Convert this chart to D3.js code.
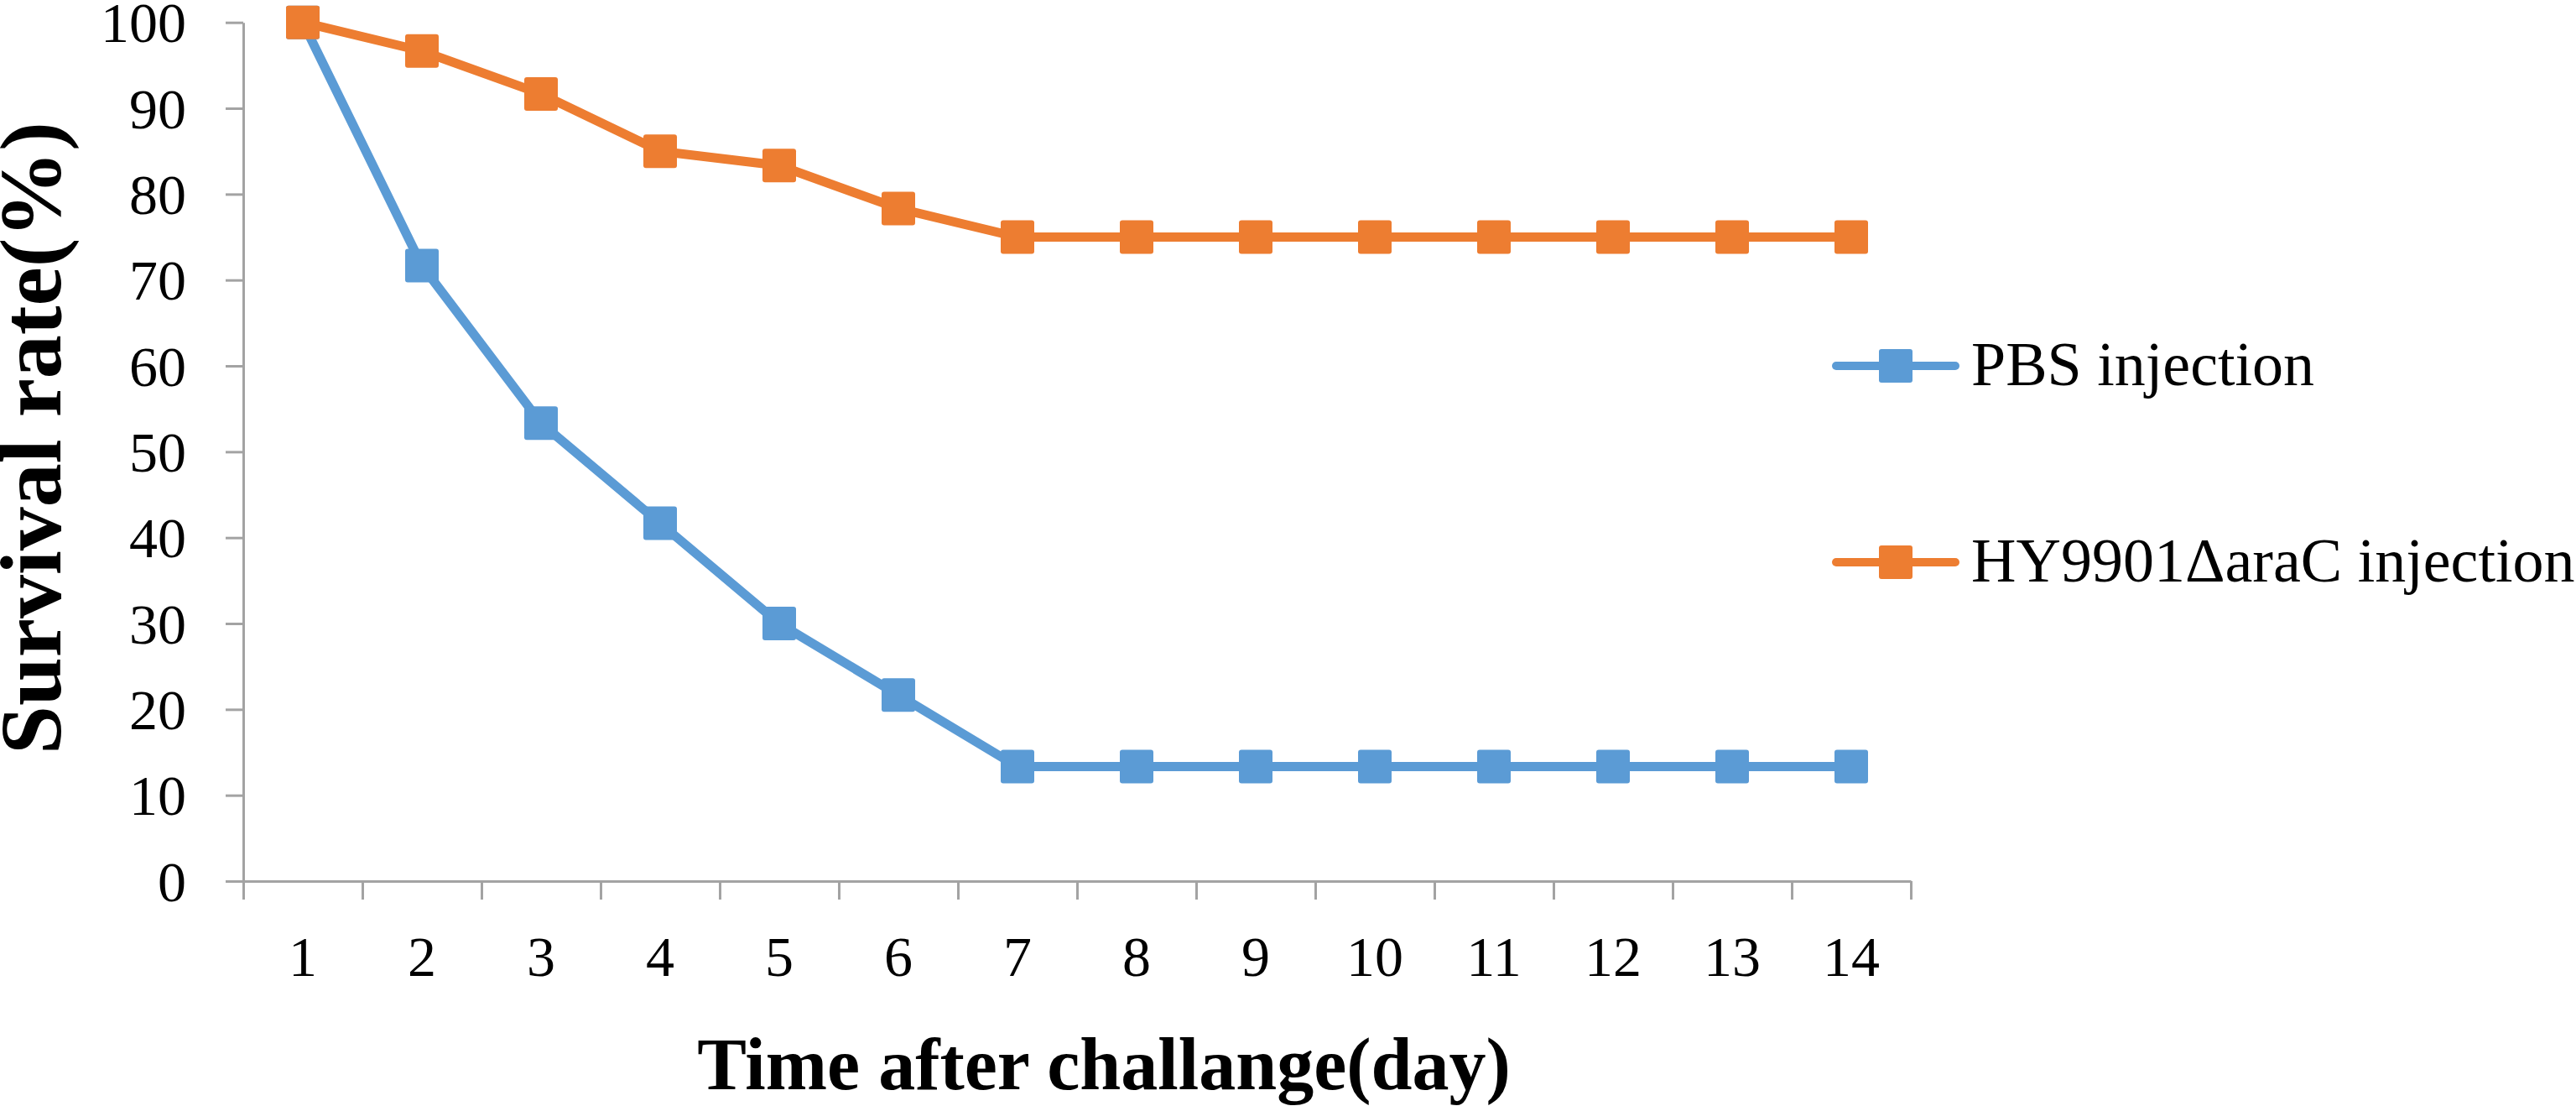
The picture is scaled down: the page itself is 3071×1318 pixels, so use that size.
<!DOCTYPE html>
<html>
<head>
<meta charset="utf-8">
<script src="https://cdn.jsdelivr.net/npm/d3@7"></script>
<style>
  html, body { margin: 0; padding: 0; background: #ffffff; }
  svg { display: block; }
</style>
</head>
<body>
<div id="chart"></div>
<script>
// ---- data ----
const days = ["1","2","3","4","5","6","7","8","9","10","11","12","13","14"];
const pbsValues = [100, 71.67, 53.33, 41.67, 30, 21.67, 13.33, 13.33, 13.33, 13.33, 13.33, 13.33, 13.33, 13.33];
const hyValues  = [100, 96.67, 91.67, 85, 83.33, 78.33, 75, 75, 75, 75, 75, 75, 75, 75];
const seriesNames = ["PBS injection", "HY9901\u0394araC injection"];
const seriesColors = ["#5B9BD5", "#ED7D31"];
const yTickValues = [0, 10, 20, 30, 40, 50, 60, 70, 80, 90, 100];
const xTitle = "Time after challange(day)";
const yTitle = "Survival rate(%)";

// ---- layout ----
const W = 3071, H = 1318;
const plot = { left: 290, right: 2278, top: 26.7, bottom: 1050 };
const FONT = "'Liberation Serif', 'Times New Roman', serif";
const AXIS_COLOR = "#A3A3A3";

const svg = d3.select("#chart").append("svg")
  .attr("width", W).attr("height", H)
  .attr("viewBox", `0 0 ${W} ${H}`);

const x = d3.scaleBand().domain(days).range([plot.left, plot.right]).padding(0);
const xEdge = d3.scaleLinear().domain([0, days.length]).range([plot.left, plot.right]);
const y = d3.scaleLinear().domain([0, 100]).range([plot.bottom, plot.top]);

// ---- y axis ----
const yAxis = svg.append("g")
  .attr("transform", `translate(${plot.left},0)`)
  .call(d3.axisLeft(y).tickValues(yTickValues).tickSize(21).tickSizeOuter(0).tickPadding(47).tickFormat(d3.format("d")));
yAxis.select(".domain").attr("stroke", AXIS_COLOR).attr("stroke-width", 3);
yAxis.selectAll(".tick line").attr("stroke", AXIS_COLOR).attr("stroke-width", 3);
yAxis.selectAll(".tick text")
  .attr("font-family", FONT).attr("font-size", 68).attr("fill", "#000")
  .attr("dy", "0.34em");

// ---- x axis: boundary ticks ----
const xTicksAxis = svg.append("g")
  .attr("transform", `translate(0,${plot.bottom})`)
  .call(d3.axisBottom(xEdge).tickValues(d3.range(0, days.length + 1)).tickSize(22).tickSizeOuter(0).tickFormat(""));
xTicksAxis.select(".domain").attr("stroke", AXIS_COLOR).attr("stroke-width", 3);
xTicksAxis.selectAll(".tick line").attr("stroke", AXIS_COLOR).attr("stroke-width", 3);

// ---- x axis: category labels ----
const xLabels = svg.append("g")
  .attr("transform", `translate(0,${plot.bottom})`)
  .call(d3.axisBottom(x).tickSize(0).tickPadding(0));
xLabels.select(".domain").remove();
xLabels.selectAll(".tick text")
  .attr("font-family", FONT).attr("font-size", 68).attr("fill", "#000")
  .attr("y", 113).attr("dy", 0);

// ---- axis titles ----
svg.append("text")
  .attr("x", 1316).attr("y", 1298)
  .attr("text-anchor", "middle")
  .attr("font-family", FONT).attr("font-weight", "bold").attr("font-size", 88)
  .attr("fill", "#000")
  .text(xTitle);

svg.append("text")
  .attr("transform", `translate(72,522) rotate(-90)`)
  .attr("text-anchor", "middle")
  .attr("font-family", FONT).attr("font-weight", "bold").attr("font-size", 104)
  .attr("fill", "#000")
  .text(yTitle);

// ---- series ----
const series = [
  { name: seriesNames[0], color: seriesColors[0], values: pbsValues },
  { name: seriesNames[1], color: seriesColors[1], values: hyValues }
];

const line = d3.line()
  .x((d, i) => x(days[i]) + x.bandwidth() / 2)
  .y(d => y(d));

const MS = 40; // marker size
series.forEach(s => {
  const g = svg.append("g");
  g.append("path")
    .datum(s.values)
    .attr("d", line)
    .attr("fill", "none")
    .attr("stroke", s.color)
    .attr("stroke-width", 11)
    .attr("stroke-linejoin", "round");
  g.selectAll("rect")
    .data(s.values)
    .join("rect")
    .attr("x", (d, i) => x(days[i]) + x.bandwidth() / 2 - MS / 2)
    .attr("y", d => y(d) - MS / 2)
    .attr("width", MS).attr("height", MS)
    .attr("rx", 3)
    .attr("fill", s.color);
});

// ---- legend ----
const legendY = [436, 670];
const legend = svg.append("g");
series.forEach((s, i) => {
  const g = legend.append("g").attr("transform", `translate(0,${legendY[i]})`);
  g.append("line")
    .attr("x1", 2189).attr("x2", 2331).attr("y1", 0).attr("y2", 0)
    .attr("stroke", s.color).attr("stroke-width", 10).attr("stroke-linecap", "round");
  g.append("rect")
    .attr("x", 2240).attr("y", -20).attr("width", MS).attr("height", MS)
    .attr("rx", 3).attr("fill", s.color);
  g.append("text")
    .attr("x", 2350).attr("y", 0).attr("dy", "0.31em")
    .attr("font-family", FONT).attr("font-size", 74).attr("fill", "#000")
    .text(s.name);
});
</script>
</body>
</html>
